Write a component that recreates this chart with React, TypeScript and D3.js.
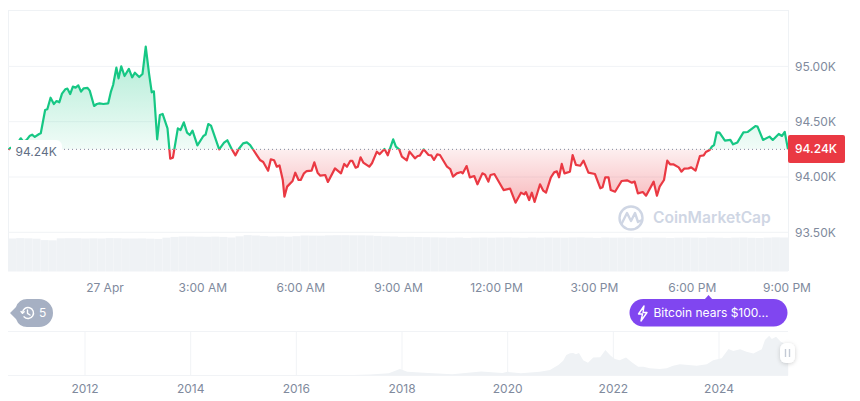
import * as d3 from "d3";

// [minutes since 21:00 on 26 Apr, price in K USD]
const pricePoints: [number, number][] = [
  [3, 94.247], [5, 94.259], [12, 94.274], [19, 94.304], [25, 94.35], [30, 94.319], [36, 94.335], [42, 94.374],
  [46, 94.383], [51, 94.362], [59, 94.389], [62, 94.395], [70, 94.606], [74, 94.612], [80, 94.717], [86, 94.66],
  [91, 94.687], [96, 94.675], [101, 94.754], [107, 94.793], [111, 94.799], [116, 94.75], [121, 94.817], [126, 94.808],
  [131, 94.829], [136, 94.772], [141, 94.802], [148, 94.805], [152, 94.781], [160, 94.642], [165, 94.66], [170, 94.666],
  [177, 94.66], [186, 94.666], [191, 94.772], [195, 94.832], [201, 94.989], [205, 94.892], [210, 95.001], [216, 94.913],
  [224, 94.977], [230, 94.901], [235, 94.943], [243, 94.904], [249, 94.931], [255, 95.178], [261, 94.937], [266, 94.766],
  [270, 94.775], [276, 94.341], [281, 94.561], [286, 94.57], [295, 94.44], [300, 94.166], [305, 94.175], [314, 94.44],
  [319, 94.425], [325, 94.494], [331, 94.401], [336, 94.38], [341, 94.419], [350, 94.286], [361, 94.371], [365, 94.383],
  [370, 94.479], [375, 94.464], [390, 94.25], [399, 94.31], [405, 94.332], [413, 94.253], [420, 94.196], [426, 94.253],
  [434, 94.304], [441, 94.313], [447, 94.289], [453, 94.244], [465, 94.154], [471, 94.136], [480, 94.057], [485, 94.16],
  [491, 94.151], [496, 94.093], [501, 94.105], [507, 93.973], [510, 93.822], [515, 93.913], [525, 93.964], [530, 94.039],
  [536, 93.973], [540, 93.973], [546, 94.033], [551, 94.054], [560, 94.057], [565, 94.133], [571, 94.039], [576, 94.012],
  [585, 94.018], [590, 93.955], [603, 94.078], [614, 94.033], [620, 94.118], [625, 94.093], [631, 94.145], [635, 94.145],
  [641, 94.084], [645, 94.093], [650, 94.178], [655, 94.13], [666, 94.093], [671, 94.124], [680, 94.229], [685, 94.205],
  [694, 94.253], [700, 94.196], [710, 94.341], [715, 94.274], [721, 94.25], [726, 94.184], [735, 94.151], [740, 94.229],
  [750, 94.169], [755, 94.19], [759, 94.193], [766, 94.25], [775, 94.199], [780, 94.196], [785, 94.154], [791, 94.205],
  [796, 94.199], [809, 94.093], [815, 94.072], [820, 94.003], [827, 94.033], [835, 94.045], [838, 94.033], [845, 94.099],
  [851, 93.997], [859, 94.009], [865, 93.934], [874, 94.033], [879, 94.021], [885, 93.958], [889, 94.018], [896, 94.027],
  [913, 93.882], [925, 93.895], [935, 93.768], [945, 93.858], [951, 93.843], [954, 93.864], [960, 93.792], [965, 93.858],
  [970, 93.774], [980, 93.934], [986, 93.876], [991, 93.858], [1000, 93.997], [1006, 94.042], [1011, 94.051], [1015, 93.997],
  [1020, 94.118], [1025, 94.033], [1035, 94.048], [1040, 94.199], [1046, 94.109], [1054, 94.102], [1060, 94.148], [1069, 94.039],
  [1081, 94.027], [1091, 93.898], [1095, 93.907], [1100, 93.997], [1106, 93.997], [1110, 93.882], [1118, 93.867], [1130, 93.964],
  [1140, 93.97], [1149, 93.949], [1154, 93.958], [1160, 93.852], [1169, 93.864], [1175, 93.831], [1189, 93.958], [1195, 93.831],
  [1200, 93.913], [1208, 93.973], [1214, 94.148], [1219, 94.115], [1225, 94.115], [1235, 94.087], [1240, 94.048], [1245, 94.075],
  [1253, 94.078], [1258, 94.087], [1266, 94.057], [1274, 94.19], [1281, 94.196], [1285, 94.226], [1292, 94.244], [1296, 94.274],
  [1300, 94.289], [1305, 94.404], [1310, 94.401], [1320, 94.329], [1330, 94.335], [1335, 94.295], [1343, 94.313], [1354, 94.404],
  [1362, 94.407], [1376, 94.461], [1380, 94.455], [1390, 94.335], [1402, 94.365], [1408, 94.335], [1419, 94.389], [1425, 94.371],
  [1430, 94.407], [1436, 94.25],
];

// volume per 15 minutes, relative units
const volumes = [
  33, 33.4, 33.2, 32.8, 31.4, 31.2, 33.2, 33.3, 33.3, 33, 33.2, 33, 33.4, 33.3, 33, 33, 33.1, 32.8, 32.6, 33.8,
  34.6, 35, 35, 34.8, 34.7, 34.9, 34.6, 34, 35.2, 36.4, 36, 35.4, 35, 35.2, 34.8, 35.3, 36, 35.9, 35.8, 36.2,
  36.3, 36.3, 36.2, 36.2, 36, 35.6, 35.2, 35, 34.6, 34.7, 34.5, 34.3, 34.2, 34, 33.8, 34, 33.6, 33.9, 34, 33.8,
  34, 34.1, 33.9, 33.7, 34, 33.8, 34, 33.9, 33.8, 34, 34.1, 33.9, 33.6, 34, 33.8, 33.9, 34, 33.7, 34, 33.9,
  33.8, 33.5, 33.8, 34, 33.9, 33.7, 34, 33.8, 33.6, 33.9, 34, 33.7, 33.5, 33.9, 34.2, 34,
];

// [year, price in K USD] for the navigator
const historyPoints: [number, number][] = [
  [2010.54, 0], [2012, 0.1], [2014, 0.6], [2016, 0.5], [2016.9, 1], [2017.4, 3], [2017.75, 6], [2017.96, 18], [2018.1, 10],
  [2018.5, 7], [2018.95, 3.5], [2019.5, 11], [2019.9, 7], [2020, 10], [2020.25, 6], [2020.61, 10.4], [2020.8, 15], [2020.96, 29],
  [2021.05, 40], [2021.11, 56], [2021.18, 60.5], [2021.24, 61.5], [2021.29, 58], [2021.35, 61.5], [2021.43, 42], [2021.52, 35],
  [2021.62, 49], [2021.75, 50], [2021.85, 70], [2021.95, 54], [2022.03, 45], [2022.12, 42], [2022.24, 49], [2022.35, 36],
  [2022.47, 24], [2022.57, 24], [2022.69, 19.6], [2022.88, 17.7], [2023.01, 19.6], [2023.13, 27], [2023.26, 30.5], [2023.42, 28.7],
  [2023.58, 27], [2023.77, 30.5], [2023.89, 42], [2024.05, 47], [2024.18, 72.4], [2024.27, 67], [2024.4, 72], [2024.52, 65],
  [2024.65, 60], [2024.81, 72], [2024.87, 97], [2024.95, 109], [2025, 100], [2025.08, 106], [2025.17, 92], [2025.31, 83],
];

const priceTicks = [95, 94.5, 94, 93.5];
const timeTicks = [180, 360, 540, 720, 900, 1080, 1260, 1440];
const timeLabels = ["27 Apr", "3:00 AM", "6:00 AM", "9:00 AM", "12:00 PM", "3:00 PM", "6:00 PM", "9:00 PM"];
const yearTicks = [2012, 2014, 2016, 2018, 2020, 2022, 2024];
const baseline = 94.25;
const currentLabel = "94.24K";

const FONT = "Inter, sans-serif";
const GREEN = "#16c784";
const RED = "#ea3943";
const GREY = "#808a9d";
const GRID = "#f1f3f6";

const x = d3.scaleLinear().domain([3, 1436]).range([8.7, 788]);
const y = d3.scaleLinear().domain([93.5, 95]).range([232.3, 66.4]);
const xVol = d3.scaleBand<number>().domain(d3.range(volumes.length)).range([8, 788]);
const yVol = d3.scaleLinear().domain([0, 40]).range([271.5, 231.5]);
const xHist = d3.scaleLinear().domain([2012, 2024]).range([85, 719]);
const yHist = d3.scaleLinear().domain([0, 108]).range([375.5, 336]);

const priceLine = d3.line<[number, number]>().x(d => x(d[0])).y(d => y(d[1]));
const priceArea = d3.area<[number, number]>().x(d => x(d[0])).y0(y(baseline)).y1(d => y(d[1]));
const historyArea = d3.area<[number, number]>().x(d => xHist(d[0])).y0(yHist(0)).y1(d => yHist(d[1]));

export default function App() {
  const base = y(baseline);
  const prices = pricePoints.map(d => d[1]);
  return (
    <svg
      width={860}
      height={401}
      style={{ position: "absolute", left: 0, top: 0, background: "#fff", fontFamily: FONT }}
    >
      <defs>
        <clipPath id="above"><rect x={0} y={0} width={860} height={base} /></clipPath>
        <clipPath id="below"><rect x={0} y={base} width={860} height={200} /></clipPath>
        <linearGradient id="greenFill" gradientUnits="userSpaceOnUse" x1={0} x2={0} y1={y(d3.max(prices)!)} y2={base}>
          <stop offset="0" stopColor={GREEN} stopOpacity={0.35} />
          <stop offset="1" stopColor={GREEN} stopOpacity={0.06} />
        </linearGradient>
        <linearGradient id="redFill" gradientUnits="userSpaceOnUse" x1={0} x2={0} y1={base} y2={y(d3.min(prices)!)}>
          <stop offset="0" stopColor={RED} stopOpacity={0.08} />
          <stop offset="1" stopColor={RED} stopOpacity={0.35} />
        </linearGradient>
        <filter id="handleShadow" x="-50%" y="-50%" width="200%" height="200%">
          <feDropShadow dx={0} dy={1} stdDeviation={2} floodColor="#000" floodOpacity={0.18} />
        </filter>
      </defs>

      {/* frame and grid */}
      <line x1={8} x2={788} y1={10.5} y2={10.5} stroke="#eff2f5" />
      <line x1={8.5} x2={8.5} y1={10} y2={271} stroke="#eff2f5" />
      <line x1={788.5} x2={788.5} y1={10} y2={271} stroke="#eff2f5" />
      {priceTicks.map(t => (
        <g key={t}>
          <line x1={8} x2={788} y1={y(t)} y2={y(t)} stroke={GRID} />
          <text x={795} y={y(t)} dy="0.35em" fontSize={12} fill={GREY}>{t.toFixed(2)}K</text>
        </g>
      ))}

      {/* volume */}
      {volumes.map((v, i) => (
        <rect key={i} x={xVol(i)} y={yVol(v)} width={xVol.bandwidth()} height={yVol(0) - yVol(v)} fill="#eff2f5" />
      ))}

      {/* watermark */}
      <g stroke="#cfd6e4" fill="none" strokeWidth={2.4} strokeLinecap="round" strokeLinejoin="round">
        <circle cx={631} cy={218} r={11.5} />
        <path d="M622 223 L627 213 L631 221 L635 213 L638 222 L642 220" />
      </g>
      <text x={653} y={218} dy="0.35em" fontSize={15.6} fontWeight={600} fill="#cfd6e4">CoinMarketCap</text>

      {/* price */}
      <path d={priceArea(pricePoints)!} fill="url(#greenFill)" clipPath="url(#above)" />
      <path d={priceArea(pricePoints)!} fill="url(#redFill)" clipPath="url(#below)" />
      <line x1={8} x2={788} y1={base} y2={base} stroke={GREY} strokeWidth={1} strokeDasharray="1 3" />
      <path d={priceLine(pricePoints)!} fill="none" stroke={GREEN} strokeWidth={2.2} strokeLinejoin="round" clipPath="url(#above)" />
      <path d={priceLine(pricePoints)!} fill="none" stroke={RED} strokeWidth={2.2} strokeLinejoin="round" clipPath="url(#below)" />

      {/* current price labels */}
      <rect x={11} y={140} width={51} height={21} rx={6} fill="#fff" />
      <text x={15.5} y={152} dy="0.35em" fontSize={12} fill="#616e85">{currentLabel}</text>
      <rect x={788} y={135} width={57} height={28} rx={2} fill={RED} />
      <text x={795} y={149} dy="0.35em" fontSize={12} fontWeight={500} fill="#fff">{currentLabel}</text>

      {/* time axis */}
      {timeTicks.map((t, i) => (
        <text key={t} x={Math.min(x(t), 787)} y={288} dy="0.35em" textAnchor="middle" fontSize={12} fill={GREY}>
          {timeLabels[i]}
        </text>
      ))}

      {/* history pill */}
      <path d="M10 313 L16 307 Q19 299 27 299 L39 299 A14 14 0 0 1 39 327 L27 327 Q19 327 16 319 Z" fill="#a6b0c3" />
      <g stroke="#fff" fill="none" strokeWidth={1.4} strokeLinecap="round" strokeLinejoin="round">
        <path d="M22.5 313 A5.5 5.5 0 1 1 24 316.8" />
        <path d="M21 311.5 L22.5 313.3 L24.2 311.7" />
        <path d="M27.5 310 L27.5 313.3 L30 315" />
      </g>
      <text x={39} y={313} dy="0.35em" fontSize={12} fill="#fff">5</text>

      {/* news pill */}
      <path d="M704.5 299.5 L708.5 295 L712.5 299.5 Z" fill="#8046f0" />
      <rect x={629.5} y={299} width={158} height={27.5} rx={13.75} fill="#8046f0" />
      <path d="M644 306 L638.5 314 L642.5 314 L641 321 L647 312.5 L643 312.5 Z" fill="none" stroke="#fff" strokeWidth={1.4} strokeLinejoin="round" />
      <text x={653.5} y={313} dy="0.35em" fontSize={12} fill="#fff">Bitcoin nears $100...</text>

      {/* navigator */}
      <line x1={8} x2={788} y1={331.5} y2={331.5} stroke={GRID} />
      {yearTicks.map(t => (
        <g key={t}>
          <line x1={xHist(t)} x2={xHist(t)} y1={331.5} y2={375.5} stroke={GRID} />
          <text x={xHist(t)} y={389} dy="0.35em" textAnchor="middle" fontSize={12} fill={GREY}>{t}</text>
        </g>
      ))}
      <path d={historyArea(historyPoints)!} fill="#eff2f5" />
      <line x1={8} x2={788} y1={375.5} y2={375.5} stroke={GRID} />
      <rect x={780} y={343} width={15} height={20} rx={6} fill="#fff" filter="url(#handleShadow)" />
      <line x1={785.5} x2={785.5} y1={349} y2={357} stroke="#c4cad5" strokeWidth={1.4} />
      <line x1={789.5} x2={789.5} y1={349} y2={357} stroke="#c4cad5" strokeWidth={1.4} />
    </svg>
  );
}
